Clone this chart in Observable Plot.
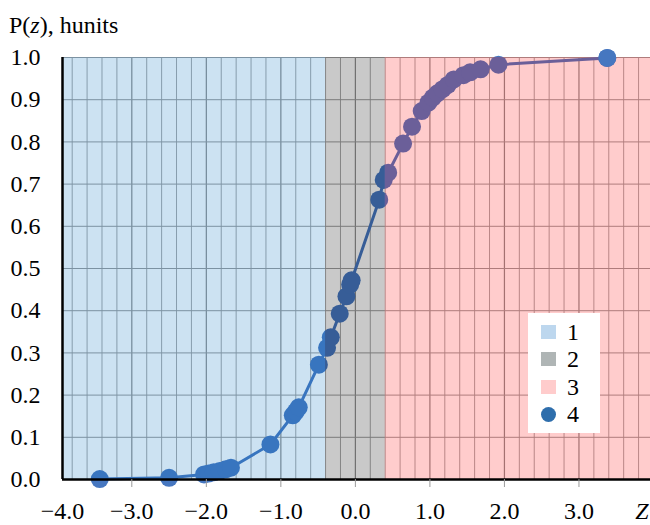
<!DOCTYPE html>
<html>
<head>
<meta charset="utf-8">
<script src="https://cdn.jsdelivr.net/npm/d3@7"></script>
<script src="https://cdn.jsdelivr.net/npm/@observablehq/plot@0.6"></script>
<style>
  body { margin: 0; background: #fff; }
  #wrap { position: relative; width: 650px; height: 525px; font-family: "Liberation Serif", "DejaVu Serif", serif; }
  #title { position: absolute; left: 9px; top: 13px; font-size: 24px; line-height: 24px; color: #000; white-space: nowrap; }
  #legend { position: absolute; left: 528px; top: 313px; width: 72px; height: 120px; background: #fff; }
  .li { position: absolute; left: 0; height: 24px; width: 72px; font-size: 24px; line-height: 24px; }
  .sw { position: absolute; left: 13px; top: 5px; width: 15px; height: 14px; }
  .lt { position: absolute; left: 39px; top: 0; }
</style>
</head>
<body>
<div id="wrap">
  <div id="title">P(<i>z</i>), hunits</div>
  <div id="chart"></div>
  <div id="legend"></div>
</div>
<script>
// Data
const zValues = [-3.43, -2.50, -2.03, -1.97, -1.90, -1.82, -1.74, -1.67, -1.14, -0.84, -0.80, -0.76,
  -0.49, -0.38, -0.33, -0.21, -0.12, -0.07, -0.05, 0.32, 0.38, 0.44, 0.64, 0.76, 0.89, 0.98,
  1.04, 1.10, 1.17, 1.24, 1.32, 1.45, 1.54, 1.68, 1.92, 3.38];
const pValues = [0.001, 0.004, 0.012, 0.014, 0.017, 0.020, 0.024, 0.028, 0.083, 0.152, 0.161, 0.171,
  0.272, 0.312, 0.337, 0.393, 0.434, 0.462, 0.472, 0.663, 0.710, 0.727, 0.796, 0.836, 0.873, 0.893,
  0.905, 0.915, 0.925, 0.935, 0.948, 0.958, 0.965, 0.972, 0.983, 0.999];

const regionStart = [-4, -0.4, 0.4];
const regionEnd = [-0.4, 0.4, 4];
const legendLabels = ["1", "2", "3", "4"];

const xTickValues = [-4, -3, -2, -1, 0, 1, 2, 3];
const xTickLabels = ["−4.0", "−3.0", "−2.0", "−1.0", "0.0", "1.0", "2.0", "3.0"];
const yTickValues = [0, 0.1, 0.2, 0.3, 0.4, 0.5, 0.6, 0.7, 0.8, 0.9, 1.0];
const axisTitleX = "Z";

// Styles
const overlayColors = ["rgba(0,112,192,0.2)", "rgba(0,0,0,0.21)", "rgba(255,0,0,0.2)"];
const legendColors = ["#bdd7ee", "#afb5b5", "#ffcccc", "#2e6eac"];
const pointColor = "#4677c0";
const font = "Liberation Serif, DejaVu Serif, serif";

const xMin = -3.93, xMax = 3.96;

const data = zValues.map((z, i) => ({z, p: pValues[i]}));
const regions = regionStart.map((s, i) => ({s, e: regionEnd[i], i}));
const xLabels = xTickValues.map((v, i) => ({v: Math.max(v, xMin), label: xTickLabels[i]}));
const minorX = d3.range(-3.8, 3.9, 0.2).map(v => Math.round(v * 10) / 10).filter(v => Math.abs(v - Math.round(v)) > 1e-6);
const majorX = [-3, -2, -1, 0, 1, 2, 3];
const gridY = [0.1, 0.2, 0.3, 0.4, 0.5, 0.6, 0.7, 0.8, 0.9, 1.0];

const chart = Plot.plot({
  width: 650,
  height: 525,
  marginTop: 57,
  marginBottom: 46,
  marginLeft: 62,
  marginRight: 0,
  style: {fontFamily: font, fontSize: "24px", background: "#fff", color: "#000"},
  x: {domain: [xMin, xMax], axis: null},
  y: {domain: [0, 1], axis: null},
  color: {type: "identity"},
  marks: [
    Plot.ruleX(minorX, {y1: 0, y2: 1, stroke: "#a9a9a9", strokeWidth: 1}),
    Plot.ruleX(majorX, {y1: 0, y2: 1, stroke: "#8e8e8e", strokeWidth: 1.2}),
    Plot.ruleY(gridY, {stroke: "#9c9c9c", strokeWidth: 1}),
    Plot.line(data, {x: "z", y: "p", stroke: pointColor, strokeWidth: 3}),
    Plot.dot(data, {x: "z", y: "p", r: 9, fill: pointColor}),
    Plot.rect(regions, {x1: "s", x2: "e", y1: 0, y2: 1, fill: d => overlayColors[d.i], clip: true}),
    Plot.dot(data.filter(d => d.p >= 0.99), {x: "z", y: "p", r: 9, fill: pointColor}),
    Plot.ruleY([0], {stroke: "#000", strokeWidth: 2.5}),
    Plot.ruleX([xMin], {y1: 0, y2: 1, stroke: "#000", strokeWidth: 2.5}),
    Plot.axisX({ticks: majorX, tickSize: 8, tickFormat: () => "", stroke: "#9a9a9a", label: null}),
    Plot.text(xLabels, {x: "v", y: 0, text: "label", dy: 32, fontSize: 24, fontFamily: font, fill: "#000", textAnchor: "middle", lineAnchor: "middle"}),
    Plot.axisY({ticks: yTickValues, tickSize: 0, tickPadding: 22, tickFormat: d => d.toFixed(1), fontSize: 24, fontFamily: font, fill: "#000", label: null}),
    Plot.text([axisTitleX], {frameAnchor: "bottom-right", text: d => d, dx: -2, dy: 32, fontSize: 24, fontStyle: "italic", fontFamily: font, fill: "#000", textAnchor: "end", lineAnchor: "middle"})
  ]
});
document.getElementById("chart").appendChild(chart);

const legend = document.getElementById("legend");
legendLabels.forEach((lab, i) => {
  const row = document.createElement("div");
  row.className = "li";
  row.style.top = (7 + i * 27.3) + "px";
  const sw = document.createElement("div");
  sw.className = "sw";
  sw.style.background = legendColors[i];
  if (i === 3) { sw.style.borderRadius = "50%"; sw.style.width = "15px"; sw.style.height = "15px"; }
  const t = document.createElement("span");
  t.className = "lt";
  t.textContent = lab;
  row.appendChild(sw);
  row.appendChild(t);
  legend.appendChild(row);
});
</script>
</body>
</html>
